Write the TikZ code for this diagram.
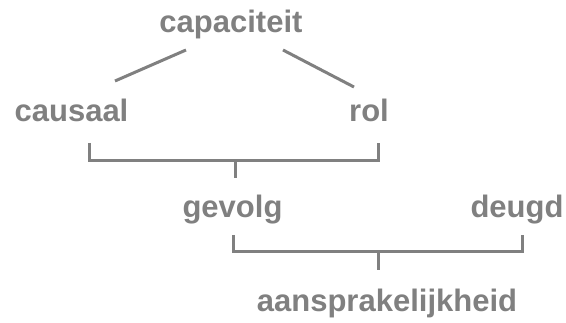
\documentclass[tikz,border=0pt]{standalone}
\usepackage{fontspec}
\setmainfont{Liberation Sans}
\definecolor{txtgray}{RGB}{128,128,128}
\begin{document}
\begin{tikzpicture}[x=1pt,y=-1pt,
  lbl/.style={anchor=base,inner sep=0pt,text=txtgray,font=\bfseries\fontsize{31}{37}\selectfont},
  conn/.style={draw=txtgray,line width=3pt}]
\useasboundingbox (0,0) rectangle (566,323);
% labels
\node[lbl] (cap) at (231,33) {capaciteit};
\node[lbl] (causaal) at (71.5,122) {causaal};
\node[lbl] (rol) at (369,122) {rol};
\node[lbl] (gevolg) at (232.5,218) {gevolg};
\node[lbl] (deugd) at (517,218) {deugd};
\node[lbl] (aans) at (387,312) {aansprakelijkheid};
% connector end points
\coordinate (capL) at (186,50);
\coordinate (causT) at (115,81);
\coordinate (capR) at (283,50);
\coordinate (rolT) at (354,87);
\coordinate (b1a) at (89,143);
\coordinate (b1b) at (378,143);
\coordinate (b1s) at (235,161);
\coordinate (b1e) at (235,178);
\coordinate (b2a) at (233,235);
\coordinate (b2b) at (522,235);
\coordinate (b2s) at (378,252);
\coordinate (b2e) at (378,270);
% connectors
\draw[conn] (capL) -- (causT);
\draw[conn] (capR) -- (rolT);
\draw[conn] (b1a) |- (b1s) -| (b1b);
\draw[conn] (b1s) -- (b1e);
\draw[conn] (b2a) |- (b2s) -| (b2b);
\draw[conn] (b2s) -- (b2e);
\end{tikzpicture}
\end{document}
